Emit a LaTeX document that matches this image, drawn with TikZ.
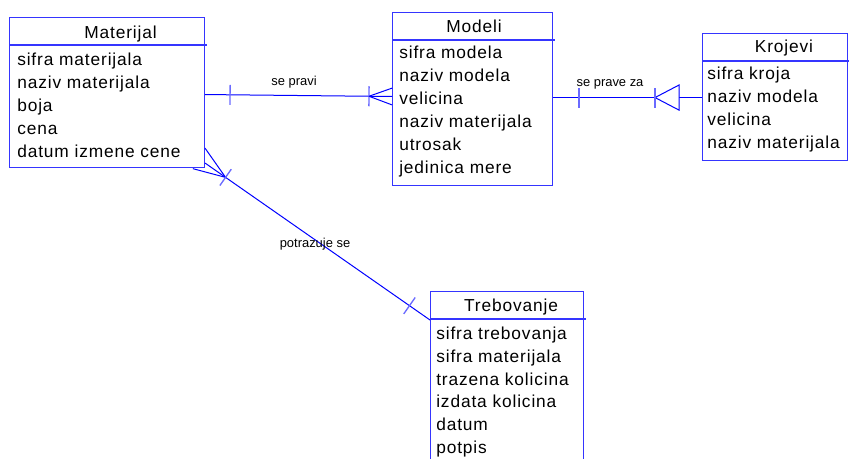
\documentclass[tikz,border=0pt]{standalone}
\usepackage{fontspec}
\newfontfamily\erfont[LetterSpace=5]{Liberation Sans}
\newfontfamily\labfont{Liberation Sans}
\usetikzlibrary{calc,decorations.markings}

\definecolor{boxBlue}{HTML}{3535FF}
\definecolor{relBlue}{HTML}{0000FF}
\definecolor{tickBlue}{HTML}{6A6AFF}

\def\px{0.75pt}

\tikzset{
  entbox/.style={draw=boxBlue, line width=0.8pt, anchor=north west, inner sep=0pt},
  hdrline/.style={draw=boxBlue, line width=0.8pt},
  enttitle/.style={font=\erfont\fontsize{13pt}{15pt}\selectfont, anchor=base, inner sep=0pt},
  attr/.style={font=\erfont\fontsize{13pt}{15pt}\selectfont, anchor=base west, inner sep=0pt},
  rel/.style={draw=relBlue, line width=0.75pt},
  rellabel/.style={font=\labfont\fontsize{9.7pt}{11pt}\selectfont, anchor=base, inner sep=0pt},
  one at/.style={postaction={decorate, decoration={markings,
      mark=at position #1 with {\draw[tickBlue, line width=1pt] (0,-7.5pt) -- (0,7.5pt);}}}},
  many end/.style={postaction={decorate, decoration={markings,
      mark=at position -17.25pt with {\draw[relBlue, line width=0.75pt] (0,0) -- (20:18.4pt) (0,0) -- (-20:18.4pt);}}}},
  many start/.style={postaction={decorate, decoration={markings,
      mark=at position 18.75pt with {\draw[relBlue, line width=0.75pt] (0,0) -- (160:26.8pt) (0,0) -- (200:25.4pt);}}}},
  tri end/.style={postaction={decorate, decoration={markings,
      mark=at position -35.25pt with {\draw[relBlue, fill=white, line width=0.75pt] (0,0) -- (18pt,9.4pt) -- (18pt,-9.4pt) -- cycle;
        \draw[tickBlue, line width=1pt] (0,-7.5pt) -- (0,7.5pt);}}}}
}

\begin{document}
\begin{tikzpicture}[x=0.75pt, y=-0.75pt]
    \useasboundingbox (0,0) rectangle (849,459);

    % Entities
    \node[entbox, minimum width=195*\px, minimum height=150*\px] (mat) at (9,17) {};
    \node[entbox, minimum width=160*\px, minimum height=173*\px] (mod) at (392,12) {};
    \node[entbox, minimum width=145*\px, minimum height=127*\px] (kro) at (702,33) {};
    \node[entbox, minimum width=153*\px, minimum height=190*\px] (tre) at (430,291) {};

    % Header lines
    \foreach \e in {mat, mod, kro, tre} {
        \draw[hdrline] ([yshift=-28*\px]\e.north west) -- ([xshift=2*\px, yshift=-28*\px]\e.north east);
    }

    % Titles
    \node[enttitle] (matT) at (120.5,39) {Materijal};
    \node[enttitle] (modT) at (474,33) {Modeli};
    \node[enttitle] (kroT) at (784,53) {Krojevi};
    \node[enttitle] (treT) at (511,312) {Trebovanje};

    % Attributes
    \foreach \a [count=\i] in {sifra materijala, naziv materijala, boja, cena, datum izmene cene}
        \node[attr] (matA\i) at (17, {43+23*\i}) {\a};
    \foreach \a [count=\i] in {sifra modela, naziv modela, velicina, naziv materijala, utrosak, jedinica mere}
        \node[attr] (modA\i) at (399, {35.5+23*\i}) {\a};
    \foreach \a [count=\i] in {sifra kroja, naziv modela, velicina, naziv materijala}
        \node[attr] (kroA\i) at (707, {57+23*\i}) {\a};
    \foreach \a [count=\i] in {sifra trebovanja, sifra materijala, trazena kolicina, izdata kolicina, datum, potpis}
        \node[attr] (treA\i) at (436, {316.7+22.8*\i}) {\a};

    % Relationships
    \draw[rel, one at=18.75pt, one at=-17.25pt, many end] ([yshift=-1.5pt]mat.east) -- ([yshift=1.9pt]mod.west);
    \node[rellabel] (lblPravi) at (294,86) {se pravi};

    \draw[rel, one at=19.5pt, tri end] ([yshift=1.1pt]mod.east) -- ([yshift=1.1pt]mod.east -| kro.west);
    \node[rellabel] (lblPrave) at (610,87) {se prave za};

    \draw[rel, many start, one at=18.75pt, one at=-18.75pt] ([yshift=3.75pt]mat.south east) -- ([yshift=-21.75pt]tre.north west);
    \node[rellabel] (lblPotr) at (315,248) {potrazuje se};
\end{tikzpicture}
\end{document}
